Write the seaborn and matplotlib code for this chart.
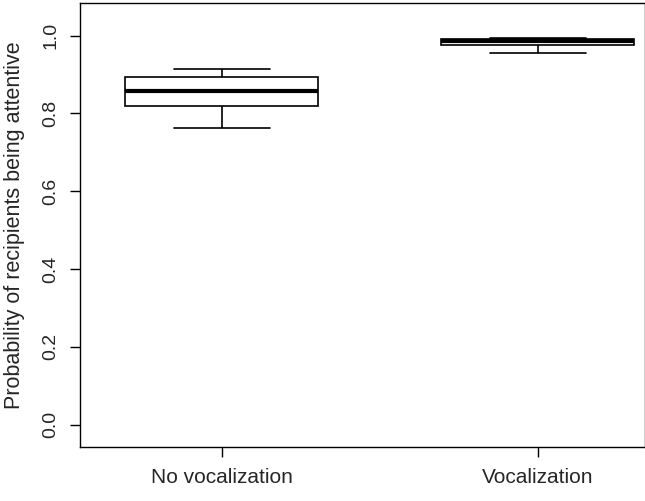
import matplotlib
matplotlib.use("Agg")
import matplotlib.pyplot as plt
import seaborn as sns
import pandas as pd

categories = ["No vocalization", "Vocalization"]
# five-number summaries: min, q1, median, q3, max
no_voc = [0.763, 0.818, 0.857, 0.893, 0.915]
voc = [0.955, 0.975, 0.986, 0.991, 0.995]

df = pd.DataFrame({"group": [categories[0]] * 5 + [categories[1]] * 5,
                   "p": no_voc + voc})

sns.set_style("white")
plt.rcParams['font.family'] = ['Liberation Sans', 'DejaVu Sans']
fig = plt.figure(figsize=(6.45, 5.01), dpi=100)
ax = fig.add_axes([0.124, 0.108, 0.876, 0.887])
sns.boxplot(data=df, x="group", y="p", ax=ax, whis=10, width=0.61,
            color="white", linecolor="black", linewidth=1.2,
            medianprops=dict(linewidth=3, color="black"), showfliers=False)
ax.set_xlim(-0.449, 1.339)
ax.set_ylim(-0.057, 1.085)
ax.set_yticks([0, 0.2, 0.4, 0.6, 0.8, 1.0])
ax.set_yticklabels(["0.0", "0.2", "0.4", "0.6", "0.8", "1.0"], rotation=90, va="center", fontsize=14)
ax.set_xticks([0, 1])
ax.set_xticklabels(categories, fontsize=15)
ax.tick_params(axis="both", length=7, width=1, color="black", direction="out", pad=8, bottom=True, left=True)
ax.set_xlabel("")
ax.set_ylabel("Probability of recipients being attentive", fontsize=15.5, labelpad=12)
for s in ax.spines.values():
    s.set_color("black"); s.set_linewidth(1)
fig.savefig("out.png", dpi=100)
